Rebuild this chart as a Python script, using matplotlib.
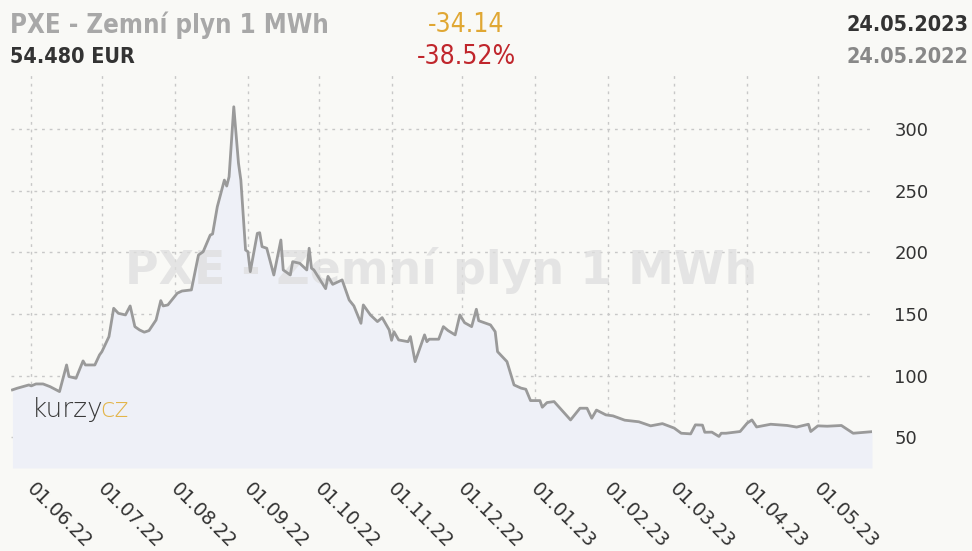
import matplotlib
matplotlib.use("Agg")
import matplotlib.pyplot as plt
import pandas as pd

dates = [
    "2022-05-24", "2022-05-26", "2022-05-31", "2022-06-01", "2022-06-03", "2022-06-06",
    "2022-06-09", "2022-06-13", "2022-06-16", "2022-06-17", "2022-06-20", "2022-06-23",
    "2022-06-24", "2022-06-28", "2022-06-30", "2022-07-01", "2022-07-04", "2022-07-06",
    "2022-07-08", "2022-07-11", "2022-07-13", "2022-07-15", "2022-07-17", "2022-07-19",
    "2022-07-21", "2022-07-24", "2022-07-26", "2022-07-27", "2022-07-29", "2022-08-02",
    "2022-08-04", "2022-08-08", "2022-08-11", "2022-08-13", "2022-08-16", "2022-08-17",
    "2022-08-19", "2022-08-22", "2022-08-23", "2022-08-24", "2022-08-26", "2022-08-28",
    "2022-08-29", "2022-08-31", "2022-09-01", "2022-09-02", "2022-09-05", "2022-09-06",
    "2022-09-07", "2022-09-09", "2022-09-12", "2022-09-15", "2022-09-16", "2022-09-19",
    "2022-09-20", "2022-09-23", "2022-09-26", "2022-09-27", "2022-09-28", "2022-09-29",
    "2022-10-04", "2022-10-05", "2022-10-07", "2022-10-11", "2022-10-14", "2022-10-16",
    "2022-10-19", "2022-10-20", "2022-10-23", "2022-10-26", "2022-10-28", "2022-10-31",
    "2022-11-01", "2022-11-02", "2022-11-04", "2022-11-08", "2022-11-09", "2022-11-11",
    "2022-11-15", "2022-11-16", "2022-11-17", "2022-11-21", "2022-11-23", "2022-11-25",
    "2022-11-28", "2022-11-30", "2022-12-02", "2022-12-05", "2022-12-07", "2022-12-08",
    "2022-12-13", "2022-12-15", "2022-12-16", "2022-12-20", "2022-12-23", "2022-12-26",
    "2022-12-28", "2022-12-30", "2023-01-03", "2023-01-04", "2023-01-06", "2023-01-09",
    "2023-01-16", "2023-01-20", "2023-01-23", "2023-01-25", "2023-01-27", "2023-01-31",
    "2023-02-03", "2023-02-08", "2023-02-14", "2023-02-19", "2023-02-24", "2023-03-01",
    "2023-03-04", "2023-03-08", "2023-03-10", "2023-03-13", "2023-03-14", "2023-03-17",
    "2023-03-20", "2023-03-21", "2023-03-23", "2023-03-29", "2023-04-01", "2023-04-03",
    "2023-04-05", "2023-04-11", "2023-04-18", "2023-04-22", "2023-04-27", "2023-04-28",
    "2023-05-01", "2023-05-05", "2023-05-11", "2023-05-16", "2023-05-24",
]
prices = [
    88.4, 89.7, 92.4, 91.6, 93.2, 93.2,
    91.0, 87.0, 108.6, 99.2, 97.8, 111.9,
    108.6, 108.6, 116.8, 119.4, 131.6, 154.6,
    150.5, 149.2, 156.5, 139.7, 137.0, 135.2,
    136.5, 145.1, 160.8, 156.5, 157.3, 166.8,
    168.6, 169.5, 197.8, 200.5, 214.0, 214.9,
    237.0, 258.6, 253.8, 261.3, 318.1, 272.2,
    258.6, 201.9, 200.5, 184.3, 215.4, 215.9,
    204.6, 203.3, 181.6, 210.0, 185.7, 181.6,
    192.4, 191.1, 185.7, 203.3, 187.1, 185.7,
    170.5, 180.5, 174.0, 177.6, 161.3, 156.5,
    142.4, 157.3, 149.2, 143.8, 147.0, 137.0,
    128.6, 135.6, 128.9, 127.5, 131.6, 111.3,
    133.0, 127.5, 129.5, 129.5, 139.7, 136.5,
    133.0, 149.2, 142.9, 139.7, 153.8, 144.5,
    141.1, 135.6, 119.4, 111.3, 92.4, 89.8,
    88.9, 79.7, 79.7, 74.3, 78.1, 78.9,
    64.0, 73.5, 73.5, 65.4, 72.0, 68.1,
    67.3, 63.8, 62.5, 59.2, 61.0, 57.4,
    53.2, 52.7, 60.0, 59.8, 54.0, 54.1,
    50.6, 53.2, 53.2, 54.6, 61.4, 64.0,
    58.3, 60.5, 59.5, 58.2, 60.5, 54.6,
    59.2, 58.9, 59.5, 53.2, 54.48,
]
x_ticks = ["2022-06-01", "2022-07-01", "2022-08-01", "2022-09-01", "2022-10-01",
           "2022-11-01", "2022-12-01", "2023-01-01", "2023-02-01", "2023-03-01",
           "2023-04-01", "2023-05-01"]
x_tick_labels = ["01.06.22", "01.07.22", "01.08.22", "01.09.22", "01.10.22", "01.11.22",
                 "01.12.22", "01.01.23", "01.02.23", "01.03.23", "01.04.23", "01.05.23"]
y_ticks = [50, 100, 150, 200, 250, 300]

title = "PXE - Zemní plyn 1 MWh"
change_abs = "-34.14"
change_pct = "-38.52%"
last_price = "54.480 EUR"
date_to = "24.05.2023"
date_from = "24.05.2022"

BG = "#f9f9f6"
dts = pd.to_datetime(dates)
tick_dts = pd.to_datetime(x_ticks)

W, H = 972, 551
fig = plt.figure(figsize=(W / 100, H / 100), dpi=100, facecolor=BG)
L, R, T, B = 11, 872, 73, 468
ax = fig.add_axes([L / W, 1 - B / H, (R - L) / W, (B - T) / H])
ax.set_facecolor(BG)

ymin, ymax = 25, 345.5
ax.fill_between(dts, prices, ymin, color="#eef0f7", lw=0, zorder=1)
ax.text(0.5, 0.5, title, transform=ax.transAxes, ha="center", va="center",
        fontsize=33, fontweight="bold", color="#dedede", alpha=0.75, zorder=2,
        family="DejaVu Sans")
ax.plot(dts, prices, color="#9a9a9a", lw=2.0, zorder=4)

ax.set_xlim(dts[0] - pd.Timedelta(days=0.6), dts[-1])
ax.set_ylim(ymin, ymax)

ax.set_xticks(tick_dts)
ax.set_xticklabels([])
for d, lab in zip(tick_dts, x_tick_labels):
    ax.annotate(lab, xy=(d, 0), xycoords=("data", "axes fraction"),
                xytext=(4.0, -8.5), textcoords="offset points",
                rotation=-45, ha="left", va="top", rotation_mode="anchor",
                fontsize=13.5, color="#333333", annotation_clip=False)
ax.set_yticks(y_ticks)
ax.yaxis.tick_right()
ax.tick_params(axis="y", length=0, pad=16, labelsize=13, labelcolor="#333333")
ax.tick_params(axis="x", length=0)

ax.grid(True, color="#c8c8c8", linestyle=(0, (2, 3.5)), linewidth=1, zorder=0)
ax.set_axisbelow(True)
for s in ax.spines.values():
    s.set_visible(False)

# kurzy.cz logo
ax.text(0.024, 0.148, "kurzy", transform=ax.transAxes, fontsize=19, color="#3a3a3a",
        fontweight="light", family="DejaVu Sans", va="center", ha="left", zorder=5)
ax.text(0.104, 0.148, "cz", transform=ax.transAxes, fontsize=19, color="#e3b54a",
        fontweight="light", family="DejaVu Sans", va="center", ha="left", zorder=5)

hdr = dict(family="DejaVu Sans", fontstretch="condensed")
fig.text(10 / W, 1 - 25 / H, title, fontsize=18.5, fontweight="bold", color="#a8a8a8",
         ha="left", va="center", **hdr)
fig.text(10 / W, 1 - 57 / H, last_price, fontsize=15.5, fontweight="bold", color="#333333",
         ha="left", va="center", **hdr)
fig.text(466 / W, 1 - 25 / H, change_abs, fontsize=19, color="#e0a733",
         ha="center", va="center", **hdr)
fig.text(466 / W, 1 - 57 / H, change_pct, fontsize=19, color="#c0262c",
         ha="center", va="center", **hdr)
fig.text(968 / W, 1 - 25 / H, date_to, fontsize=15.5, fontweight="bold", color="#333333",
         ha="right", va="center", **hdr)
fig.text(968 / W, 1 - 57 / H, date_from, fontsize=15.5, fontweight="bold", color="#888888",
         ha="right", va="center", **hdr)

fig.savefig("out.png", dpi=100, facecolor=BG)
